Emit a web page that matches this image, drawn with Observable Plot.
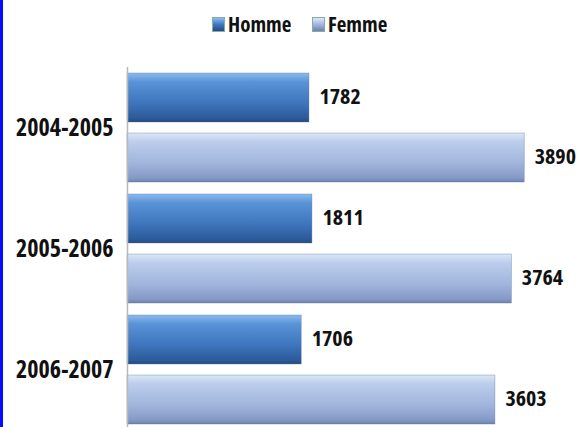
<!DOCTYPE html>
<html>
<head>
<meta charset="utf-8">
<script src="https://cdn.jsdelivr.net/npm/d3@7"></script>
<script src="https://cdn.jsdelivr.net/npm/@observablehq/plot@0.6"></script>
<style>
  html, body { margin: 0; padding: 0; background: #fff; overflow: hidden; width: 577px; height: 427px; }
  body { position: relative; font-family: "Open Sans", sans-serif; font-stretch: condensed; font-weight: bold; }
  #border { position: absolute; left: 0; top: 0; width: 3px; height: 427px; background: #0a0aff; z-index: 5; }
  #legend { height: 48px; position: relative; }
  .item { position: absolute; top: 10px; display: flex; align-items: center; font-size: 21px; color: #111; }
  .sw { width: 13px; height: 15px; margin-right: 3px; border: 1px solid #8aa; box-sizing: border-box; }
  #chart svg { display: block; }
  #chart svg text { font-stretch: condensed; }
</style>
</head>
<body>
<div id="border"></div>
<div id="legend"></div>
<div id="chart"></div>
<script>
const groups = ["2004-2005", "2005-2006", "2006-2007"];
const sexes = ["Homme", "Femme"];
const homme = [1782, 1811, 1706];
const femme = [3890, 3764, 3603];

const data = [];
groups.forEach((g, i) => {
  data.push({group: g, sex: "Homme", value: homme[i]});
  data.push({group: g, sex: "Femme", value: femme[i]});
});

const gradStops = {
  gH: [["0%", "#8bbcf0"], ["18%", "#5a93d8"], ["60%", "#3f76bd"], ["92%", "#2b5b9a"], ["100%", "#234a80"]],
  gF: [["0%", "#dbe8f8"], ["18%", "#bccdec"], ["60%", "#a2b6dd"], ["92%", "#8499c6"], ["100%", "#6e82ad"]]
};

// legend
const legend = document.getElementById("legend");
[["Homme", "gH", 212], ["Femme", "gF", 312]].forEach(([label, id, x]) => {
  const it = document.createElement("div");
  it.className = "item";
  it.style.left = x + "px";
  const sw = document.createElement("div");
  sw.className = "sw";
  const st = gradStops[id];
  sw.style.background = `linear-gradient(to bottom, ${st[0][1]}, ${st[2][1]}, ${st[4][1]})`;
  it.appendChild(sw);
  const t = document.createElement("span");
  t.textContent = label;
  it.appendChild(t);
  legend.appendChild(it);
});

const chart = Plot.plot({
  width: 577,
  height: 382,
  marginTop: 18,
  marginBottom: 0,
  marginLeft: 127,
  marginRight: 0,
  style: {fontFamily: "'Open Sans', sans-serif", fontWeight: "bold", color: "#111", background: "transparent"},
  x: {domain: [0, 4407], axis: null},
  y: {domain: sexes, paddingInner: 0.19, paddingOuter: 0.095, axis: null},
  fy: {domain: groups, padding: 0, label: null, tickSize: 0, tickPadding: 14},
  color: {domain: sexes, range: ["url(#gH)", "url(#gF)"]},
  marks: [
    Plot.barX(data, {x: "value", y: "sex", fy: "group", fill: "sex", stroke: "#5a6f94", strokeWidth: 0.6, strokeOpacity: 0.6}),
    Plot.text(data, {x: "value", y: "sex", fy: "group", text: d => String(d.value), dx: 10, dy: -1, textAnchor: "start", fontSize: 22, fontWeight: "bold", fill: "#111"}),
    Plot.ruleX([0], {stroke: "#b8b8b8", strokeWidth: 1.5})
  ]
});

d3.select(chart).selectAll("[aria-label='fy-axis tick label']").attr("font-size", 24);

const defs = d3.select(chart).insert("defs", ":first-child");
Object.entries(gradStops).forEach(([id, stops]) => {
  const lg = defs.append("linearGradient").attr("id", id).attr("x1", 0).attr("y1", 0).attr("x2", 0).attr("y2", 1);
  stops.forEach(([o, c]) => lg.append("stop").attr("offset", o).attr("stop-color", c));
});

document.getElementById("chart").appendChild(chart);
</script>
</body>
</html>
